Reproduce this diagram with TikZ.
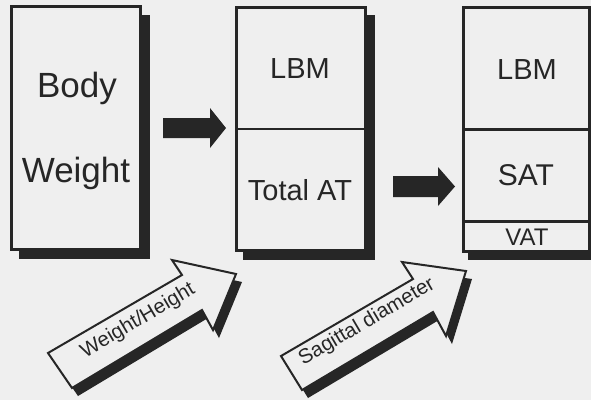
\documentclass[tikz,border=0pt]{standalone}
\usepackage{fontspec}
\setmainfont{Liberation Sans}
\definecolor{ink}{HTML}{262626}
\definecolor{paper}{HTML}{EFEFEF}
\begin{document}
\begin{tikzpicture}[x=1pt,y=-1pt,
  box/.style={draw=ink,line width=3pt,fill=paper,inner sep=0pt,outer sep=0pt},
  shadowfill/.style={fill=ink},
  divider/.style={draw=ink,line width=2.6pt},
  lbl/.style={anchor=base,inner sep=0pt,text=ink},
  blockarrow/.style={fill=ink},
  diagarrow/.style={draw=ink,line width=2pt,fill=paper,line join=miter},
  diaglbl/.style={rotate=30.5,inner sep=0pt,text=ink,font=\fontsize{20.5}{20.5}\selectfont}]
\useasboundingbox (0,0) rectangle (591,400);
\fill[paper] (0,0) rectangle (591,400);
% shadows of boxes
\fill[shadowfill] (19,15) rectangle (150,259);
\fill[shadowfill] (243,15) rectangle (375,260);
\fill[shadowfill] (468,15) rectangle (597,260);
% boxes
\node[box,minimum width=128.5pt,minimum height=242.5pt] (b1) at (75.75,127.75) {};
\node[box,minimum width=128.5pt,minimum height=242.5pt] (b2) at (300.75,128.75) {};
\node[box,minimum width=126.5pt,minimum height=243.5pt] (b3) at (526.25,129.25) {};
% dividers
\draw[divider] (b2.west |- 0,129) -- (b2.east |- 0,129);
\draw[divider] (b3.west |- 0,129.5) -- (b3.east |- 0,129.5);
\draw[divider] (b3.west |- 0,221.5) -- (b3.east |- 0,221.5);
% labels
\node[lbl,font=\fontsize{35}{35}\selectfont] (body) at (77,97) {Body};
\node[lbl,font=\fontsize{35}{35}\selectfont] (weight) at (76,182) {Weight};
\node[lbl,font=\fontsize{29}{29}\selectfont] (lbm1) at (300,78) {LBM};
\node[lbl,font=\fontsize{29}{29}\selectfont] (tat) at (300,200) {Total AT};
\node[lbl,font=\fontsize{29}{29}\selectfont] (lbm2) at (527,79) {LBM};
\node[lbl,font=\fontsize{30}{30}\selectfont] (sat) at (526,185) {SAT};
\node[lbl,font=\fontsize{24}{24}\selectfont] (vat) at (527,245) {VAT};
% horizontal block arrows
\fill[blockarrow] (163,118) -- (210,118) -- (210,108) -- (226,128) -- (210,148) -- (210,138) -- (163,138) -- cycle;
\fill[blockarrow] (393,176) -- (438,176) -- (438,167) -- (455,186.5) -- (438,206) -- (438,197) -- (393,197) -- cycle;
% diagonal arrows: shadows
\fill[shadowfill,shift={(6,8)}] (48,353) -- (182,275) -- (172,260) -- (236,274) -- (213,330) -- (202,310) -- (72,388) -- cycle;
\fill[shadowfill,shift={(6,8)}] (281,356) -- (413,279) -- (402,262) -- (466,271) -- (446,336) -- (433,312) -- (302,390) -- cycle;
% diagonal arrows
\draw[diagarrow] (48,353) -- (182,275) -- (172,260) -- (236,274) -- (213,330) -- (202,310) -- (72,388) -- cycle;
\draw[diagarrow] (281,356) -- (413,279) -- (402,262) -- (466,271) -- (446,336) -- (433,312) -- (302,390) -- cycle;
\node[diaglbl] (wh) at (138,321) {Weight/Height};
\node[diaglbl] (sd) at (367,322) {Sagittal diameter};
\end{tikzpicture}
\end{document}
